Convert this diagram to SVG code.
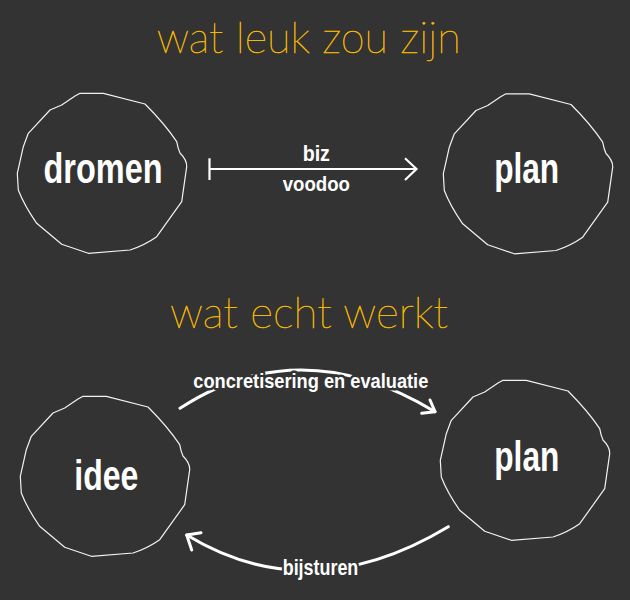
<svg xmlns="http://www.w3.org/2000/svg" xmlns:xlink="http://www.w3.org/1999/xlink" width="630" height="600" viewBox="0 0 630 600">
  <style>
    .title { font-family: "Lato", "Roboto", "Inter", sans-serif; font-weight: 100; font-size: 44px; fill: #f5b800; stroke: #f5b800; stroke-width: 0.55px; }
    .node-label { font-family: "Liberation Sans Narrow", "Liberation Sans", "Roboto", sans-serif; font-weight: bold; font-size: 42px; fill: #ffffff; }
    .edge-label { font-family: "Liberation Sans Narrow", "Liberation Sans", "Roboto", sans-serif; font-weight: bold; font-size: 21px; fill: #ffffff; stroke: #333333; stroke-width: 5px; paint-order: stroke; stroke-linejoin: round; }
    .blob { fill: none; stroke: #f2f2f2; stroke-width: 1.2; stroke-linejoin: round; }
    .conn { fill: none; stroke: #ffffff; stroke-width: 3; stroke-linecap: round; stroke-linejoin: round; }
    .conn-thin { fill: none; stroke: #ffffff; stroke-width: 2.2; stroke-linecap: butt; stroke-linejoin: miter; }
  </style>
  <defs>
    <path id="blob" class="blob" d="M80,93.3 L103.3,93.3 L145,104 Q165,124 176.7,141.7 Q178,149 180,153 Q187,160 186.7,166.7 L181.7,201.7 L156.7,236.7 Q145,245 130,250 L88.3,253.3 L61.7,244.3 L36.7,223.3 Q24,205 18.3,190 L17.3,173.3 L23.3,146.7 L28.3,133.3 L50,110 L61.7,105 L75,96 Z"/>
  </defs>
  <rect x="0" y="0" width="630" height="600" fill="#333333"/>

  <text class="title" x="308.7" y="52.7" text-anchor="middle" textLength="304" lengthAdjust="spacingAndGlyphs">wat leuk zou zijn</text>
  <text class="title" x="309" y="328.3" text-anchor="middle" textLength="278" lengthAdjust="spacingAndGlyphs">wat echt werkt</text>

  <g id="connectors">
    <g id="edge-biz">
      <path class="conn-thin" d="M209.5,158.3 L209.5,180 M209.5,169 L416,169 M405,158.3 L416.5,169 L405,180"/>
      <text class="edge-label" style="stroke:none;font-size:22px" x="316.3" y="160.7" text-anchor="middle" textLength="27.3" lengthAdjust="spacingAndGlyphs">biz</text>
      <text class="edge-label" style="stroke:none" x="316.3" y="190.7" text-anchor="middle" textLength="67.3" lengthAdjust="spacingAndGlyphs">voodoo</text>
    </g>
    <g id="edge-concretisering">
      <path class="conn" d="M180,408.3 Q300,330 435,411.7"/>
      <path class="conn" d="M421.7,413.3 L435,411.7 L430,400"/>
      <text class="edge-label" x="310.8" y="388.3" text-anchor="middle" textLength="235" lengthAdjust="spacingAndGlyphs">concretisering en evaluatie</text>
    </g>
    <g id="edge-bijsturen">
      <path class="conn" d="M448.3,526.7 Q310,610 186.7,535"/>
      <path class="conn" d="M201,532.7 L186.7,535 L191.7,550"/>
      <text class="edge-label" style="font-size:22px" x="320.5" y="575" text-anchor="middle" textLength="75.6" lengthAdjust="spacingAndGlyphs">bijsturen</text>
    </g>
  </g>

  <g id="node-dromen">
    <use xlink:href="#blob" href="#blob"/>
    <text class="node-label" x="103" y="182.7" text-anchor="middle" textLength="119" lengthAdjust="spacingAndGlyphs">dromen</text>
  </g>
  <g id="node-plan-top">
    <use xlink:href="#blob" href="#blob" transform="translate(426,0.5)"/>
    <text class="node-label" x="526.7" y="182.5" text-anchor="middle" textLength="65" lengthAdjust="spacingAndGlyphs">plan</text>
  </g>
  <g id="node-idee">
    <use xlink:href="#blob" href="#blob" transform="translate(3,303)"/>
    <text class="node-label" x="106.3" y="490" text-anchor="middle" textLength="64" lengthAdjust="spacingAndGlyphs">idee</text>
  </g>
  <g id="node-plan-bottom">
    <use xlink:href="#blob" href="#blob" transform="translate(423,287)"/>
    <text class="node-label" x="526.8" y="470.5" text-anchor="middle" textLength="65" lengthAdjust="spacingAndGlyphs">plan</text>
  </g>
</svg>
